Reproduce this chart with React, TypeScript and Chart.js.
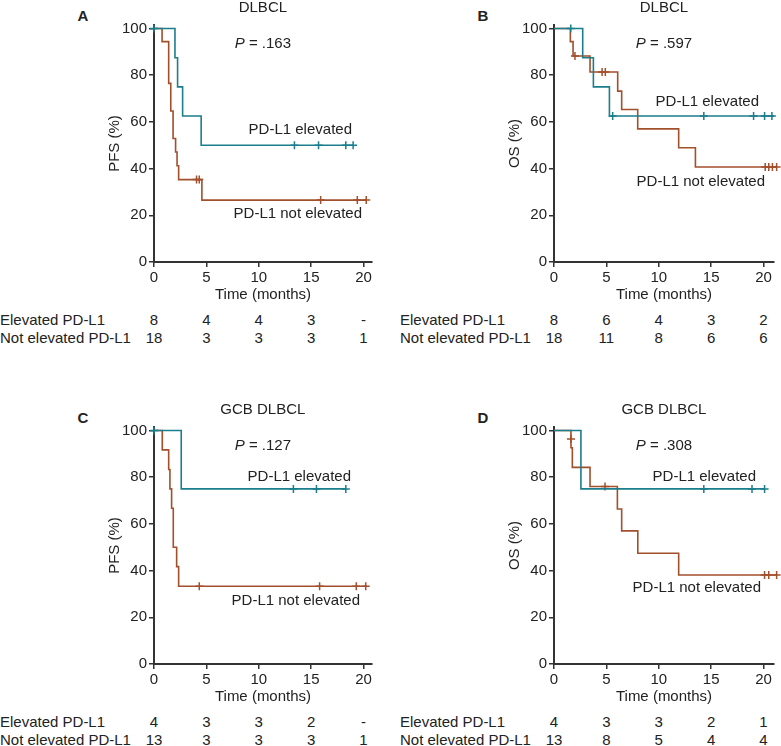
import React, { useEffect, useRef } from "react";
import { Chart, registerables } from "chart.js";

Chart.register(...registerables);

// ---------- DATA ----------
const TEAL = "#1b7e8c";
const BROWN = "#a24f2b";
const INK = "#222222";
const AXIS = "#333333";

const X_TICKS = [0, 5, 10, 15, 20];
const Y_TICKS = [0, 20, 40, 60, 80, 100];

// Panel A: PFS, DLBCL
const A_ELEV_T = [0, 2.0, 2.25, 2.73, 4.5, 19.0];
const A_ELEV_S = [100, 87.5, 75, 62.5, 50, 50];
const A_ELEV_CENS_T = [0, 13.4, 15.7, 18.3, 19.0];
const A_ELEV_CENS_S = [100, 50, 50, 50, 50];
const A_NOT_T = [0, 0.77, 1.4, 1.6, 1.82, 2.06, 2.2, 2.35, 4.57, 20.25];
const A_NOT_S = [100, 94.4, 76.5, 64.7, 52.9, 47.1, 41.2, 35.3, 26.5, 26.5];
const A_NOT_CENS_T = [4.06, 4.32, 15.9, 19.4, 20.25];
const A_NOT_CENS_S = [35.3, 35.3, 26.5, 26.5, 26.5];
const A_RISK_ELEV = ["8", "4", "4", "3", "-"];
const A_RISK_NOT = ["18", "3", "3", "3", "1"];

// Panel B: OS, DLBCL
const B_ELEV_T = [0, 2.74, 3.76, 5.29, 21.0];
const B_ELEV_S = [100, 87.5, 75, 62.5, 62.5];
const B_ELEV_CENS_T = [1.6, 5.6, 14.3, 19.05, 20.1, 20.8];
const B_ELEV_CENS_S = [100, 62.5, 62.5, 62.5, 62.5, 62.5];
const B_NOT_T = [0, 1.56, 1.82, 3.44, 6.08, 6.46, 7.99, 11.9, 13.5, 21.3];
const B_NOT_S = [100, 94.4, 88.2, 81.4, 73.2, 65.3, 57.0, 48.9, 40.7, 40.7];
const B_NOT_CENS_T = [2.0, 4.59, 4.9, 20.16, 20.5, 20.85, 21.25];
const B_NOT_CENS_S = [88.2, 81.4, 81.4, 40.7, 40.7, 40.7, 40.7];
const B_RISK_ELEV = ["8", "6", "4", "3", "2"];
const B_RISK_NOT = ["18", "11", "8", "6", "6"];

// Panel C: PFS, GCB DLBCL
const C_ELEV_T = [0, 2.6, 18.3];
const C_ELEV_S = [100, 75, 75];
const C_ELEV_CENS_T = [0, 13.3, 15.5, 18.3];
const C_ELEV_CENS_S = [100, 75, 75, 75];
const C_NOT_T = [0, 0.79, 1.4, 1.52, 1.68, 1.84, 2.16, 2.35, 20.3];
const C_NOT_S = [100, 91.7, 83.3, 75, 66.7, 50, 41.7, 33.3, 33.3];
const C_NOT_CENS_T = [4.32, 15.8, 19.3, 20.2];
const C_NOT_CENS_S = [33.3, 33.3, 33.3, 33.3];
const C_RISK_ELEV = ["4", "3", "3", "2", "-"];
const C_RISK_NOT = ["13", "3", "3", "3", "1"];

// Panel D: OS, GCB DLBCL
const D_ELEV_T = [0, 2.57, 20.1];
const D_ELEV_S = [100, 75, 75];
const D_ELEV_CENS_T = [14.3, 18.9, 20.1];
const D_ELEV_CENS_S = [75, 75, 75];
const D_NOT_T = [0, 1.62, 1.75, 3.44, 6.05, 6.46, 8.0, 11.9, 21.3];
const D_NOT_S = [100, 92.6, 84.2, 76, 66.4, 57, 47.4, 38.1, 38.1];
const D_NOT_CENS_T = [1.62, 4.87, 20.1, 20.5, 21.25];
const D_NOT_CENS_S = [96.4, 76, 38.1, 38.1, 38.1];
const D_RISK_ELEV = ["4", "3", "3", "2", "1"];
const D_RISK_NOT = ["13", "8", "5", "4", "4"];

const ROW_ELEV = "Elevated PD-L1";
const ROW_NOT = "Not elevated PD-L1";
const LBL_ELEV = "PD-L1 elevated";
const LBL_NOT = "PD-L1 not elevated";

// ---------- LAYOUT ----------
const FONT = '"Liberation Sans", Arial, Helvetica, sans-serif';
const FS = 15;
const PX_PER_MONTH = 10.47;
const PX_PER_PCT = 2.333;
const Y_MAX = 101.5;
const LEFT_W = 60;
const BOTTOM_H = 44;
const PAD_TOP = 14;
const PAD_RIGHT = 15;

type Panel = {
  letter: string;
  title: string;
  p: string;
  yTitle: string;
  axisX: number;
  axisY: number;
  xMax: number;
  elevT: number[];
  elevS: number[];
  elevCT: number[];
  elevCS: number[];
  notT: number[];
  notS: number[];
  notCT: number[];
  notCS: number[];
  riskElev: string[];
  riskNot: string[];
  rowX: number;
  elevLbl: [number, number];
  notLbl: [number, number];
};

const PANELS: Panel[] = [
  {
    letter: "A", title: "DLBCL", p: ".163", yTitle: "PFS (%)",
    axisX: 154, axisY: 262, xMax: 20.8,
    elevT: A_ELEV_T, elevS: A_ELEV_S, elevCT: A_ELEV_CENS_T, elevCS: A_ELEV_CENS_S,
    notT: A_NOT_T, notS: A_NOT_S, notCT: A_NOT_CENS_T, notCS: A_NOT_CENS_S,
    riskElev: A_RISK_ELEV, riskNot: A_RISK_NOT, rowX: 0,
    elevLbl: [352, 129], notLbl: [362, 212.5],
  },
  {
    letter: "B", title: "DLBCL", p: ".597", yTitle: "OS (%)",
    axisX: 554, axisY: 262, xMax: 21.0,
    elevT: B_ELEV_T, elevS: B_ELEV_S, elevCT: B_ELEV_CENS_T, elevCS: B_ELEV_CENS_S,
    notT: B_NOT_T, notS: B_NOT_S, notCT: B_NOT_CENS_T, notCS: B_NOT_CENS_S,
    riskElev: B_RISK_ELEV, riskNot: B_RISK_NOT, rowX: 400,
    elevLbl: [759, 101], notLbl: [765, 181],
  },
  {
    letter: "C", title: "GCB DLBCL", p: ".127", yTitle: "PFS (%)",
    axisX: 154, axisY: 664, xMax: 20.8,
    elevT: C_ELEV_T, elevS: C_ELEV_S, elevCT: C_ELEV_CENS_T, elevCS: C_ELEV_CENS_S,
    notT: C_NOT_T, notS: C_NOT_S, notCT: C_NOT_CENS_T, notCS: C_NOT_CENS_S,
    riskElev: C_RISK_ELEV, riskNot: C_RISK_NOT, rowX: 0,
    elevLbl: [351, 476], notLbl: [360, 600],
  },
  {
    letter: "D", title: "GCB DLBCL", p: ".308", yTitle: "OS (%)",
    axisX: 554, axisY: 664, xMax: 21.0,
    elevT: D_ELEV_T, elevS: D_ELEV_S, elevCT: D_ELEV_CENS_T, elevCS: D_ELEV_CENS_S,
    notT: D_NOT_T, notS: D_NOT_S, notCT: D_NOT_CENS_T, notCS: D_NOT_CENS_S,
    riskElev: D_RISK_ELEV, riskNot: D_RISK_NOT, rowX: 400,
    elevLbl: [756, 476], notLbl: [761, 586.5],
  },
];

const pts = (t: number[], s: number[]) => t.map((x, i) => ({ x, y: s[i] }));

function KMChart({ cfg }: { cfg: Panel }) {
  const ref = useRef<HTMLCanvasElement | null>(null);
  const plotW = Math.round(cfg.xMax * PX_PER_MONTH);
  const plotH = Math.round(Y_MAX * PX_PER_PCT);
  const w = LEFT_W + plotW + PAD_RIGHT;
  const h = PAD_TOP + plotH + BOTTOM_H;
  const left = cfg.axisX - LEFT_W;
  const top = cfg.axisY - plotH - PAD_TOP;

  useEffect(() => {
    if (!ref.current) return;
    const font = { family: FONT, size: FS };
    const curve = (data: any, color: string) => ({
      type: "line" as const,
      data,
      borderColor: color,
      borderWidth: 1.6,
      stepped: "before" as const,
      pointRadius: 0,
      fill: false,
      clip: false as any,
    });
    const marks = (data: any, color: string) => ({
      type: "line" as const,
      data,
      showLine: false,
      pointStyle: "cross" as const,
      pointRadius: 4,
      pointBorderWidth: 1.5,
      pointBorderColor: color,
      pointBackgroundColor: color,
      borderColor: color,
      clip: false as any,
    });
    const chart = new Chart(ref.current, {
      type: "line",
      data: {
        datasets: [
          curve(pts(cfg.elevT, cfg.elevS), TEAL),
          marks(pts(cfg.elevCT, cfg.elevCS), TEAL),
          curve(pts(cfg.notT, cfg.notS), BROWN),
          marks(pts(cfg.notCT, cfg.notCS), BROWN),
        ] as any,
      },
      options: {
        animation: false,
        responsive: false,
        devicePixelRatio: 1,
        events: [],
        layout: { padding: { top: PAD_TOP, right: PAD_RIGHT, left: 0, bottom: 0 } },
        plugins: { legend: { display: false }, tooltip: { enabled: false } },
        scales: {
          x: {
            type: "linear",
            min: 0,
            max: cfg.xMax,
            afterBuildTicks: (s: any) => {
              s.ticks = X_TICKS.map((v) => ({ value: v }));
            },
            ticks: { font, color: INK, padding: 2, maxRotation: 0, autoSkip: false },
            grid: { drawOnChartArea: false, drawTicks: true, tickLength: 5, color: AXIS, lineWidth: 1.5 },
            border: { display: true, color: AXIS, width: 2 },
            title: { display: true, text: "Time (months)", font, color: INK, padding: { top: 0, bottom: 2 } },
            afterFit: (s: any) => {
              s.height = BOTTOM_H;
            },
          },
          y: {
            type: "linear",
            min: 0,
            max: Y_MAX,
            afterBuildTicks: (s: any) => {
              s.ticks = Y_TICKS.map((v) => ({ value: v }));
            },
            ticks: { font, color: INK, padding: 2, autoSkip: false },
            grid: { drawOnChartArea: false, drawTicks: true, tickLength: 5, color: AXIS, lineWidth: 1.5 },
            border: { display: true, color: AXIS, width: 2 },
            title: { display: true, text: cfg.yTitle, font, color: INK, padding: { top: 12, bottom: 0 } },
            afterFit: (s: any) => {
              s.width = LEFT_W;
            },
          },
        },
      } as any,
    });
    return () => chart.destroy();
  }, [cfg]);

  return (
    <canvas
      ref={ref}
      width={w}
      height={h}
      style={{ position: "absolute", left, top, width: w, height: h }}
    />
  );
}

const base: React.CSSProperties = {
  position: "absolute",
  fontFamily: FONT,
  fontSize: FS,
  lineHeight: "18px",
  color: INK,
  whiteSpace: "nowrap",
};

function Txt({
  x, y, align = "center", bold = false, children,
}: { x: number; y: number; align?: "left" | "center" | "right"; bold?: boolean; children: React.ReactNode }) {
  const tx = align === "center" ? "-50%" : align === "right" ? "-100%" : "0";
  return (
    <div style={{ ...base, left: x, top: y - 9, transform: `translateX(${tx})`, fontWeight: bold ? 700 : 400 }}>
      {children}
    </div>
  );
}

function PanelText({ cfg }: { cfg: Panel }) {
  const cx = cfg.axisX + (cfg.xMax * PX_PER_MONTH) / 2;
  const topY = cfg.axisY - 100 * PX_PER_PCT; // y of 100%
  return (
    <>
      <Txt x={cfg.axisX - 71} y={topY - 13} bold>{cfg.letter}</Txt>
      <Txt x={cx} y={topY - 22}>{cfg.title}</Txt>
      <Txt x={cx} y={topY + 14}>
        <i>P</i> = {cfg.p}
      </Txt>
      <Txt x={cfg.elevLbl[0]} y={cfg.elevLbl[1]} align="right">{LBL_ELEV}</Txt>
      <Txt x={cfg.notLbl[0]} y={cfg.notLbl[1]} align="right">{LBL_NOT}</Txt>
      <Txt x={cfg.rowX} y={cfg.axisY + 58} align="left">{ROW_ELEV}</Txt>
      <Txt x={cfg.rowX} y={cfg.axisY + 76} align="left">{ROW_NOT}</Txt>
      {X_TICKS.map((t, i) => (
        <React.Fragment key={t}>
          <Txt x={cfg.axisX + t * PX_PER_MONTH} y={cfg.axisY + 58}>{cfg.riskElev[i]}</Txt>
          <Txt x={cfg.axisX + t * PX_PER_MONTH} y={cfg.axisY + 76}>{cfg.riskNot[i]}</Txt>
        </React.Fragment>
      ))}
    </>
  );
}

export default function App() {
  return (
    <div style={{ position: "absolute", left: 0, top: 0, width: 781, height: 746, background: "#fff", overflow: "hidden" }}>
      {PANELS.map((p) => (
        <KMChart key={p.letter} cfg={p} />
      ))}
      {PANELS.map((p) => (
        <PanelText key={"t" + p.letter} cfg={p} />
      ))}
    </div>
  );
}
